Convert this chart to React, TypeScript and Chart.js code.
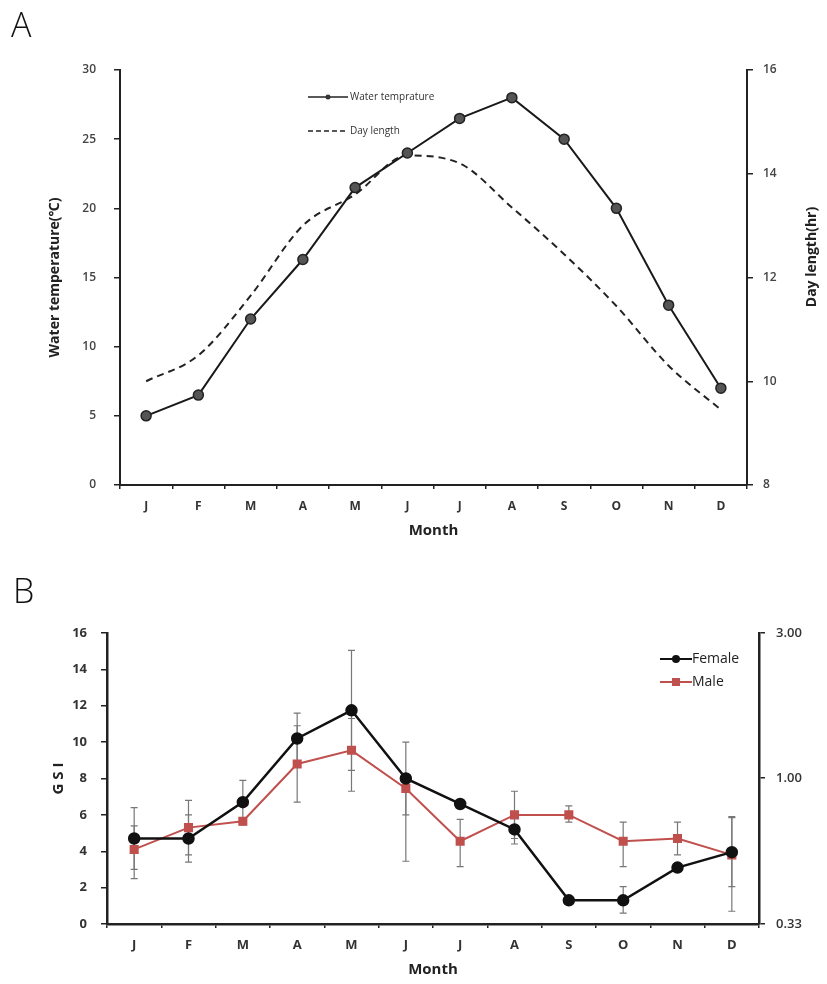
import React, { useEffect, useRef } from 'react';
import { Chart, registerables } from 'chart.js';

Chart.register(...registerables);

// ---------- data ----------
const months = ['J', 'F', 'M', 'A', 'M', 'J', 'J', 'A', 'S', 'O', 'N', 'D'];
const waterTemp = [5, 6.5, 12, 16.3, 21.5, 24, 26.5, 28, 25, 20, 13, 7];
const dayLength = [10.0, 10.5, 11.65, 13.0, 13.6, 14.35, 14.2, 13.35, 12.45, 11.45, 10.3, 9.45];

const female = [4.7, 4.7, 6.7, 10.2, 11.75, 8.0, 6.6, 5.2, 1.3, 1.3, 3.1, 3.95];
const femaleErrUp = [1.7, 1.3, 1.2, 1.4, 3.3, 2.0, 0, 0.8, 0, 0.75, 0, 1.9];
const femaleErrDown = [1.7, 1.3, 1.2, 1.4, 3.3, 2.0, 0, 0.8, 0, 0.7, 0, 1.9];
const male = [4.1, 5.3, 5.65, 8.8, 9.55, 7.45, 4.55, 6.0, 6.0, 4.55, 4.7, 3.8];
const maleErrUp = [1.3, 1.5, 0.2, 2.1, 1.75, 0, 1.2, 1.3, 0.5, 1.05, 0.9, 2.1];
const maleErrDown = [1.6, 1.5, 0.2, 2.1, 2.25, 4.0, 1.4, 1.3, 0.4, 1.4, 0.9, 3.1];
const gsiRightTicks = [0.33, 1, 3];

// ---------- styles ----------
const FONT = '"Open Sans", "Noto Sans", "DejaVu Sans", sans-serif';
const AXIS = '#222';
const MALE_COLOR = '#c0504d';

const W = 827;
const HA = 550;
const HB = 424;

const decorA = {
  id: 'decorA',
  afterDraw(chart: any) {
    const { ctx, chartArea } = chart;
    const midY = (chartArea.top + chartArea.bottom) / 2;
    const midX = (chartArea.left + chartArea.right) / 2;
    ctx.save();
    ctx.fillStyle = '#111';
    ctx.textBaseline = 'alphabetic';
    ctx.textAlign = 'left';
    ctx.font = `300 34px ${FONT}`;
    ctx.fillText('A', 11, 37);

    ctx.fillStyle = '#222';
    ctx.font = `bold 14px ${FONT}`;
    ctx.textAlign = 'center';
    ctx.textBaseline = 'middle';
    ctx.save();
    ctx.translate(55, midY);
    ctx.rotate(-Math.PI / 2);
    ctx.fillText('Water temperature(℃)', 0, 0);
    ctx.restore();
    ctx.save();
    ctx.translate(812, 257);
    ctx.rotate(-Math.PI / 2);
    ctx.fillText('Day length(hr)', 0, 0);
    ctx.restore();

    ctx.font = `bold 15px ${FONT}`;
    ctx.fillText('Month', midX, 531);

    // legend
    ctx.strokeStyle = '#222';
    ctx.lineWidth = 1.5;
    ctx.beginPath();
    ctx.moveTo(308, 97);
    ctx.lineTo(348, 97);
    ctx.stroke();
    ctx.fillStyle = '#333';
    ctx.beginPath();
    ctx.arc(328, 97, 2.5, 0, Math.PI * 2);
    ctx.fill();
    ctx.setLineDash([5, 3]);
    ctx.lineWidth = 1.5;
    ctx.beginPath();
    ctx.moveTo(308, 131);
    ctx.lineTo(346, 131);
    ctx.stroke();
    ctx.setLineDash([]);
    ctx.font = `10px ${FONT}`;
    ctx.textAlign = 'left';
    ctx.fillStyle = '#333';
    ctx.fillText('Water temprature', 350, 97);
    ctx.fillText('Day length', 350, 131);
    ctx.restore();
  },
};

const errMap: Record<number, { up: number[]; down: number[] }> = {
  0: { up: femaleErrUp, down: femaleErrDown },
  1: { up: maleErrUp, down: maleErrDown },
};

const errorBars = {
  id: 'errorBars',
  beforeDatasetsDraw(chart: any) {
    const { ctx } = chart;
    const yScale = chart.scales.y;
    ctx.save();
    ctx.strokeStyle = '#777';
    ctx.lineWidth = 1.2;
    chart.data.datasets.forEach((ds: any, di: number) => {
      const meta = chart.getDatasetMeta(di);
      const e = errMap[di];
      if (!e) return;
      ds.data.forEach((v: number, i: number) => {
        const x = meta.data[i].x;
        const yc = yScale.getPixelForValue(v);
        const segs: number[] = [];
        if (e.up[i] > 0) segs.push(yScale.getPixelForValue(v + e.up[i]));
        if (e.down[i] > 0) segs.push(yScale.getPixelForValue(v - e.down[i]));
        segs.forEach((ye) => {
          ctx.beginPath();
          ctx.moveTo(x, yc);
          ctx.lineTo(x, ye);
          ctx.moveTo(x - 3.5, ye);
          ctx.lineTo(x + 3.5, ye);
          ctx.stroke();
        });
      });
    });
    ctx.restore();
  },
};

const decorB = {
  id: 'decorB',
  afterDraw(chart: any) {
    const { ctx, chartArea } = chart;
    const midY = (chartArea.top + chartArea.bottom) / 2;
    const midX = (chartArea.left + chartArea.right) / 2;
    ctx.save();
    ctx.fillStyle = '#111';
    ctx.textAlign = 'left';
    ctx.textBaseline = 'alphabetic';
    ctx.font = `300 34px ${FONT}`;
    ctx.fillText('B', 13, 43);

    ctx.fillStyle = '#222';
    ctx.font = `bold 15px ${FONT}`;
    ctx.textAlign = 'center';
    ctx.textBaseline = 'middle';
    ctx.save();
    ctx.translate(59, midY);
    ctx.rotate(-Math.PI / 2);
    ctx.fillText('G S I', 0, 0);
    ctx.restore();
    ctx.fillText('Month', midX, 410);

    // legend
    ctx.lineWidth = 2;
    ctx.strokeStyle = '#111';
    ctx.beginPath();
    ctx.moveTo(660, 99);
    ctx.lineTo(692, 99);
    ctx.stroke();
    ctx.fillStyle = '#111';
    ctx.beginPath();
    ctx.arc(676, 99, 4, 0, Math.PI * 2);
    ctx.fill();
    ctx.strokeStyle = MALE_COLOR;
    ctx.beginPath();
    ctx.moveTo(660, 122);
    ctx.lineTo(692, 122);
    ctx.stroke();
    ctx.fillStyle = MALE_COLOR;
    ctx.fillRect(672, 118, 8, 8);
    ctx.fillStyle = '#222';
    ctx.font = `14px ${FONT}`;
    ctx.textAlign = 'left';
    ctx.fillText('Female', 692, 99);
    ctx.fillText('Male', 692, 122);
    ctx.restore();
  },
};

function axisCommon(extra: any) {
  return {
    grid: { drawOnChartArea: false, tickLength: 6, color: AXIS, lineWidth: 1.5 },
    border: { color: AXIS, width: 2 },
    ...extra,
  };
}

export default function App() {
  const refA = useRef<HTMLCanvasElement>(null);
  const refB = useRef<HTMLCanvasElement>(null);

  useEffect(() => {
    const chartA = new Chart(refA.current as HTMLCanvasElement, {
      type: 'line',
      data: {
        labels: months,
        datasets: [
          {
            label: 'Water temprature',
            data: waterTemp,
            yAxisID: 'y',
            borderColor: '#1a1a1a',
            borderWidth: 2,
            pointRadius: 5,
            pointBackgroundColor: '#555',
            pointBorderColor: '#222',
            pointBorderWidth: 1.5,
            tension: 0,
          },
          {
            label: 'Day length',
            data: dayLength,
            yAxisID: 'y1',
            borderColor: '#222',
            borderWidth: 2,
            borderDash: [7, 5],
            pointRadius: 0,
            cubicInterpolationMode: 'monotone',
          },
        ],
      } as any,
      options: {
        responsive: false,
        animation: false,
        layout: { padding: { top: 70, left: 0, right: 0, bottom: 0 } },
        plugins: { legend: { display: false }, tooltip: { enabled: false } },
        scales: {
          x: {
            type: 'category',
            offset: true,
            grid: { offset: true, drawOnChartArea: false, tickLength: 4, color: AXIS, lineWidth: 1.5 },
            border: { color: AXIS, width: 2 },
            ticks: { color: '#333', font: { family: FONT, size: 12, weight: 'bold' }, padding: 10, maxRotation: 0, autoSkip: false },
            afterFit: (s: any) => { s.height = 65; },
          },
          y: axisCommon({
            position: 'left',
            min: 0,
            max: 30,
            ticks: { stepSize: 5, color: '#444', font: { family: FONT, size: 12, weight: '600' }, padding: 18 },
            afterFit: (s: any) => { s.width = 120; },
          }),
          y1: axisCommon({
            position: 'right',
            min: 8,
            max: 16,
            ticks: { stepSize: 2, color: '#444', font: { family: FONT, size: 12, weight: '600' }, padding: 10 },
            afterFit: (s: any) => { s.width = 80; },
          }),
        },
      } as any,
      plugins: [decorA],
    });

    const chartB = new Chart(refB.current as HTMLCanvasElement, {
      type: 'line',
      data: {
        labels: months,
        datasets: [
          {
            label: 'Female',
            data: female,
            yAxisID: 'y',
            borderColor: '#111',
            borderWidth: 2.5,
            pointRadius: 5,
            pointBackgroundColor: '#111',
            pointBorderColor: '#111',
            tension: 0,
          },
          {
            label: 'Male',
            data: male,
            yAxisID: 'y',
            borderColor: MALE_COLOR,
            borderWidth: 2,
            pointStyle: 'rect',
            pointRadius: 5,
            pointBackgroundColor: MALE_COLOR,
            pointBorderColor: MALE_COLOR,
            tension: 0,
          },
        ],
      } as any,
      options: {
        responsive: false,
        animation: false,
        layout: { padding: { top: 73, left: 0, right: 0, bottom: 0 } },
        plugins: { legend: { display: false }, tooltip: { enabled: false } },
        scales: {
          x: {
            type: 'category',
            offset: true,
            grid: { offset: true, drawOnChartArea: false, tickLength: 4, color: AXIS, lineWidth: 1.5 },
            border: { color: AXIS, width: 2.5 },
            ticks: { color: '#333', font: { family: FONT, size: 13, weight: 'bold' }, padding: 9, maxRotation: 0, autoSkip: false },
            afterFit: (s: any) => { s.height = 60; },
          },
          y: axisCommon({
            position: 'left',
            min: 0,
            max: 16,
            border: { color: AXIS, width: 2.5 },
            ticks: { stepSize: 2, color: '#333', font: { family: FONT, size: 13, weight: 'bold' }, padding: 14 },
            afterFit: (s: any) => { s.width = 107; },
          }),
          y2: axisCommon({
            type: 'logarithmic',
            position: 'right',
            bounds: 'data',
            min: 0.33,
            max: 3,
            border: { color: AXIS, width: 2.5 },
            afterBuildTicks: (s: any) => {
              s.min = 0.33;
              s.max = 3;
              s.ticks = gsiRightTicks.map((v) => ({ value: v }));
            },
            ticks: {
              color: '#333',
              font: { family: FONT, size: 13, weight: '600' },
              padding: 11,
              callback: (v: any) => Number(v).toFixed(2),
            },
            afterFit: (s: any) => { s.width = 68; },
          }),
        },
      } as any,
      plugins: [errorBars, decorB],
    });

    return () => {
      chartA.destroy();
      chartB.destroy();
    };
  }, []);

  return (
    <div style={{ position: 'absolute', left: 0, top: 0, width: W, height: 984, background: '#fff' }}>
      <canvas ref={refA} width={W} height={HA} style={{ position: 'absolute', left: 0, top: 0, width: W, height: HA }} />
      <canvas ref={refB} width={W} height={HB} style={{ position: 'absolute', left: 0, top: 560, width: W, height: HB }} />
    </div>
  );
}
